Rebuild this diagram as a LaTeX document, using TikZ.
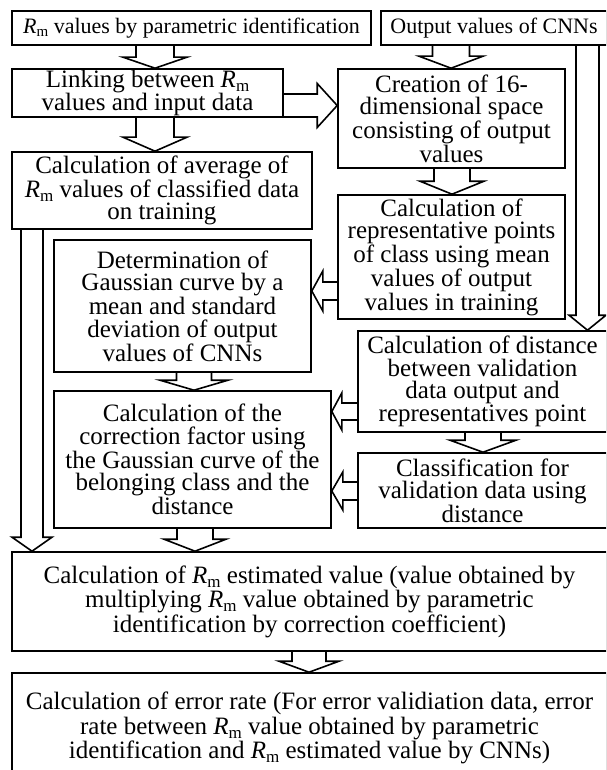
\documentclass[tikz,border=0pt]{standalone}
\usepackage{fontspec}
\setmainfont{Liberation Serif}
\usetikzlibrary{calc}
\newcommand\Rmv{\textit{R}\raisebox{-0.16em}{\fontsize{17}{17}\selectfont m}}
\newcommand\Rms{\textit{R}\raisebox{-0.16em}{\fontsize{15}{15}\selectfont m}}
% vertical block arrow: x-centre, source anchor, target anchor, half shaft, half head, head length
\newcommand\vblock[6]{%
  \draw[barrow] ({#1-#4},0 |- #2) -- ($({#1-#4},0 |- #3)+(0,-#6)$) -- ($({#1-#5},0 |- #3)+(0,-#6)$)
    -- (#1,0 |- #3) -- ($({#1+#5},0 |- #3)+(0,-#6)$) -- ($({#1+#4},0 |- #3)+(0,-#6)$) -- ({#1+#4},0 |- #2);}
% horizontal block arrow: y-centre, source anchor, target anchor, half shaft, half head, signed head length
\newcommand\hblock[6]{%
  \draw[barrow] (#2 |- 0,{#1-#4}) -- ($(#3 |- 0,{#1-#4})+(#6,0)$) -- ($(#3 |- 0,{#1-#5})+(#6,0)$)
    -- (#3 |- 0,#1) -- ($(#3 |- 0,{#1+#5})+(#6,0)$) -- ($(#3 |- 0,{#1+#4})+(#6,0)$) -- (#2 |- 0,{#1+#4});}
\tikzset{
  box/.style={draw, line width=1.6pt, inner sep=0pt, align=center, font=\fontsize{25}{22.5}\selectfont},
  topbox/.style={box, font=\fontsize{22}{24}\selectfont},
  widebox/.style={box, font=\fontsize{25}{24.5}\selectfont},
  barrow/.style={draw, line width=1.6pt, line join=miter},
}
\begin{document}
\begin{tikzpicture}[x=1pt,y=-1pt]
\useasboundingbox (0,0) rectangle (606,770);
\clip (0,0) rectangle (606,770);
\node[topbox, minimum width=359, minimum height=34] (top1) at (191.5,28) {\Rms{} values by parametric identification};
\node[topbox, minimum width=226, minimum height=34] (cnn) at (494,28) {Output values of CNNs};
\node[box, minimum width=271, minimum height=48] (link) at (147.5,93) {Linking between \Rmv\\values and input data};
\node[box, minimum width=227, minimum height=99] (creation) at (451.5,118.5) {Creation of 16-\\dimensional space\\consisting of output\\values};
\node[box, minimum width=300, minimum height=77] (avg) at (162,190.5) {Calculation of average of\\\Rmv{} values of classified data\\on training};
\node[box, minimum width=227, minimum height=124] (rep) at (451.5,257) {Calculation of\\representative points\\of class using mean\\values of output\\values in training};
\node[box, minimum width=257, minimum height=132] (det) at (182.5,306) {Determination of\\Gaussian curve by a\\mean and standard\\deviation of output\\values of CNNs};
\node[box, minimum width=249, minimum height=101] (distance) at (482.5,381.5) {Calculation of distance\\between validation\\data output and\\representatives point};
\node[box, minimum width=277, minimum height=137] (correction) at (192.5,459.5) {Calculation of the\\correction factor using\\the Gaussian curve of the\\belonging class and the\\distance};
\node[box, minimum width=249, minimum height=75] (classif) at (482.5,490.5) {Classification for\\validation data using\\distance};
\node[widebox, minimum width=595, minimum height=99] (rmest) at (309.5,601.5) {Calculation of \Rmv{} estimated value (value obtained by\\multiplying \Rmv{} value obtained by parametric\\identification by correction coefficient)};
\node[widebox, minimum width=595, minimum height=110] (error) at (309.5,728) {Calculation of error rate (For error validiation data, error\\rate between \Rmv{} value obtained by parametric\\identification and \Rmv{} estimated value by CNNs)};
\vblock{155}{top1.south}{link.north}{19}{32}{11}
\vblock{451}{cnn.south}{creation.north}{18.5}{32}{12}
\vblock{155}{link.south}{avg.north}{19}{32}{14}
\vblock{452}{creation.south}{rep.north}{18}{32}{13}
\vblock{587.5}{cnn.south}{distance.north}{11.5}{18.5}{15}
\vblock{32}{avg.south}{rmest.north}{11}{20}{14}
\vblock{194}{det.south}{correction.north}{17.5}{34}{10}
\vblock{483}{distance.south}{classif.north}{18}{33}{12}
\vblock{195}{correction.south}{rmest.north}{18}{31}{12}
\vblock{309}{rmest.south}{error.north}{17}{30}{11}
\hblock{105.5}{link.east}{creation.west}{11.5}{22}{-20}
\hblock{291}{rep.west}{det.east}{9}{20}{11}
\hblock{411.5}{distance.west}{correction.east}{8.5}{18.5}{10}
\hblock{491}{classif.west}{correction.east}{9}{19}{11}
\end{tikzpicture}
\end{document}
